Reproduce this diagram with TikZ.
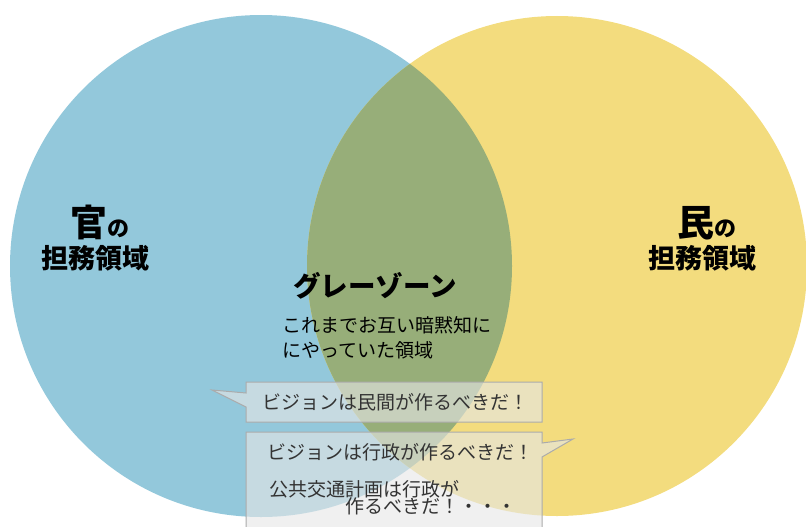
\documentclass[tikz,border=0pt]{standalone}
\usepackage{fontspec}
\setmainfont{Noto Sans CJK JP}
\definecolor{kancolor}{HTML}{93C8DB}
\definecolor{mincolor}{HTML}{F3DC7E}
\definecolor{graycolor}{HTML}{97AE79}
\definecolor{boxcolor}{HTML}{E6E6E6}
\definecolor{boxline}{HTML}{ABABAB}
\definecolor{voicecolor}{HTML}{333333}
\tikzset{
  bigchar/.style={anchor=base west,inner sep=0pt,font=\fontsize{37}{37}\selectfont\bfseries},
  areatext/.style={anchor=base west,inner sep=0pt,font=\fontsize{27}{27}\selectfont\bfseries},
  graytext/.style={anchor=base west,inner sep=0pt,font=\fontsize{19}{19}\selectfont},
  voicetext/.style={anchor=base west,inner sep=0pt,text=voicecolor,font=\fontsize{19}{19}\selectfont},
  voicebox/.style={fill=boxcolor,fill opacity=0.62,draw=boxline,line width=1pt}
}
\newcommand{\smallno}{{\fontsize{22}{22}\selectfont の}}
\begin{document}
\begin{tikzpicture}[x=1pt,y=-1pt]
\useasboundingbox (0,0) rectangle (806,527);

% circles
\fill[kancolor] (261,266) circle (251);
\fill[mincolor] (557,266) circle (250);
\begin{scope}
  \clip (261,266) circle (251);
  \fill[graycolor] (557,266) circle (250);
\end{scope}

% area labels
\node[bigchar] (kan) at (70,236) {官\smallno};
\node[areatext] (kanarea) at (41,268) {担務領域};
\node[bigchar] (min) at (677,236) {民\smallno};
\node[areatext] (minarea) at (648,268) {担務領域};

\node[areatext,font=\fontsize{27.5}{27.5}\selectfont\bfseries] (gray) at (293,296) {グレーゾーン};
\node[graytext] (grayA) at (282,332) {これまでお互い暗黙知に};
\node[graytext] (grayB) at (282,357) {にやっていた領域};

% voices
\draw[voicebox] (246,382) -- (542,382) -- (542,422) -- (246,422)
  -- (246,407) -- (212,390) -- (246,393) -- cycle;
\draw[voicebox] (246,432) -- (542,432) -- (542,443) -- (573,439)
  -- (542,457) -- (542,540) -- (246,540) -- cycle;

\node[voicetext] (voiceA) at (262,409) {ビジョンは民間が作るべきだ！};
\node[voicetext] (voiceB) at (267,459) {ビジョンは行政が作るべきだ！};
\node[voicetext] (voiceC) at (269,496) {公共交通計画は行政が};
\node[voicetext] (voiceD) at (345,513) {作るべきだ！・・・};

\end{tikzpicture}
\end{document}
